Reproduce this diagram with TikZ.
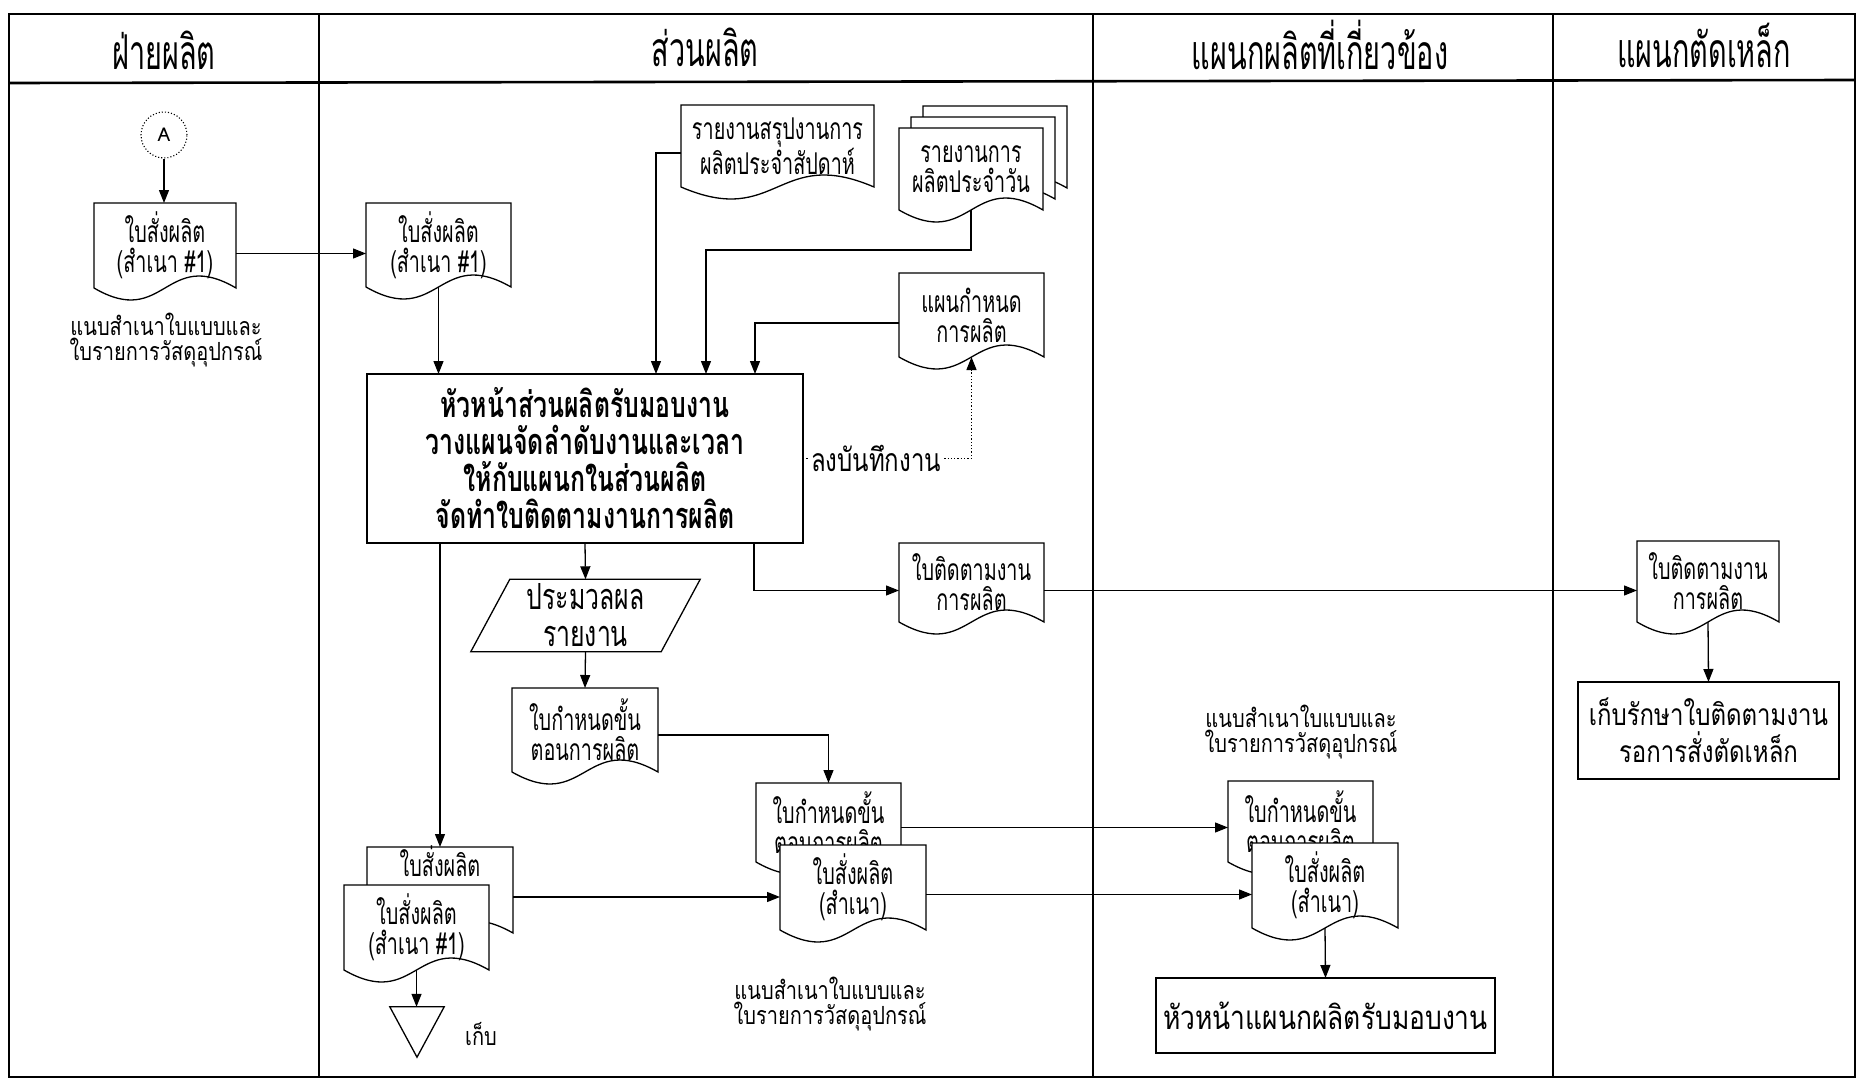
\documentclass[tikz,border=0pt]{standalone}
\usepackage{fontspec}
\newfontfamily\thaidoc[Script=Thai,FakeStretch=0.66]{Loma}
\newfontfamily\thainote[Script=Thai,FakeStretch=0.8]{Loma}
\newfontfamily\thailog[Script=Thai,FakeStretch=0.75]{Loma}
\newfontfamily\thaihdr[Script=Thai,FakeStretch=0.6]{Loma}
\newfontfamily\thaibox[Script=Thai,FakeStretch=0.8]{Loma}
\newfontfamily\thaitall[Script=Thai,FakeStretch=0.69]{Loma}
\newfontfamily\thaiplain[Script=Thai]{Loma}
\usetikzlibrary{arrows.meta,calc}

% Document symbol: rectangle with a wavy lower edge
\makeatletter
\newdimen\dpgL \newdimen\dpgR \newdimen\dpgT \newdimen\dpgB
\newdimen\dpgM \newdimen\dpgA \newdimen\dpgHi \newdimen\dpgLo
\pgfkeys{/pgf/doc wave/.initial=12pt}
\pgfdeclareshape{docpage}{%
  \inheritsavedanchors[from=rectangle]%
  \inheritanchorborder[from=rectangle]%
  \inheritanchor[from=rectangle]{center}%
  \inheritanchor[from=rectangle]{north}%
  \inheritanchor[from=rectangle]{south}%
  \inheritanchor[from=rectangle]{east}%
  \inheritanchor[from=rectangle]{west}%
  \inheritanchor[from=rectangle]{north east}%
  \inheritanchor[from=rectangle]{north west}%
  \inheritanchor[from=rectangle]{south east}%
  \inheritanchor[from=rectangle]{south west}%
  \inheritanchor[from=rectangle]{text}%
  \inheritanchor[from=rectangle]{mid}%
  \inheritanchor[from=rectangle]{base}%
  \backgroundpath{%
    \southwest \dpgL=\pgf@x \dpgB=\pgf@y
    \northeast \dpgR=\pgf@x \dpgT=\pgf@y
    \dpgM=.5\dpgL \advance\dpgM by .5\dpgR
    \pgfmathsetlength\dpgA{\pgfkeysvalueof{/pgf/doc wave}}%
    \dpgHi=\dpgB \advance\dpgHi by 3.46\dpgA
    \dpgLo=\dpgB \advance\dpgLo by -3.46\dpgA
    \pgfpathmoveto{\pgfqpoint{\dpgL}{\dpgB}}%
    \pgfpathlineto{\pgfqpoint{\dpgL}{\dpgT}}%
    \pgfpathlineto{\pgfqpoint{\dpgR}{\dpgT}}%
    \pgfpathlineto{\pgfqpoint{\dpgR}{\dpgB}}%
    \pgfpathcurveto{\pgfqpoint{\dpgM}{\dpgHi}}{\pgfqpoint{\dpgM}{\dpgLo}}{\pgfqpoint{\dpgL}{\dpgB}}%
    \pgfpathclose
  }%
}
\makeatother

\newcommand\docfont{\thaidoc\fontsize{30}{30}\selectfont}
\newcommand\notefont{\thainote\fontsize{25}{25}\selectfont}
\newcommand\logfont{\thailog\fontsize{32}{32}\selectfont}
\newcommand\hdrfont{\thaihdr\fontsize{48}{48}\selectfont}
\newcommand\boxfont{\thaibox\fontsize{30}{37}\selectfont}
\newcommand\widefont{\thaibox\fontsize{33}{37}\selectfont}
\newcommand\parafont{\thaitall\fontsize{36}{37}\selectfont}
\newcommand\bigboxfont{\thaitall\bfseries\fontsize{36}{37}\selectfont}

\tikzset{
  frame/.style={line width=2.6pt},
  lane/.style={line width=1.4pt},
  flow/.style={line width=1.3pt,-{Triangle[length=13pt,width=10pt]}},
  plainline/.style={line width=1.3pt},
  doc/.style={shape=docpage,draw,line width=1.3pt,fill=white,inner sep=0pt,
    outer sep=0pt,align=center,font=\docfont},
  proc/.style={draw,line width=1.3pt,fill=white,inner sep=0pt,outer sep=0pt,
    align=center,font=\boxfont},
  hdr/.style={font=\hdrfont,inner sep=0pt},
  note/.style={font=\notefont,align=center,inner sep=0pt},
}

% node given by its left, top, right and bottom edges
\newcommand\docnode[7][]{\node[doc,minimum width={(#5)-(#3)},minimum height={(#6)-(#4)},#1]
  (#2) at ({((#3)+(#5))/2},{((#4)+(#6))/2}) {#7};}
\newcommand\boxnode[7][]{\node[proc,minimum width={(#5)-(#3)},minimum height={(#6)-(#4)},#1]
  (#2) at ({((#3)+(#5))/2},{((#4)+(#6))/2}) {#7};}

\begin{document}
\begin{tikzpicture}[x=1pt,y=-1pt]
\useasboundingbox (0,0) rectangle (1860,1081);

% ---- swimlane frame ----
\draw[frame] (9,14) rectangle (1855,1077);
\draw[frame] (9,83) -- (1855,80);
\draw[lane] (319,14) -- (319,1077);
\draw[lane] (1093,14) -- (1093,1077);
\draw[lane] (1553,14) -- (1553,1077);

\node[hdr] (h1) at (164,50) {ฝ่ายผลิต};
\node[hdr] (h2) at (705,47) {ส่วนผลิต};
\node[hdr] (h3) at (1320,45) {แผนกผลิตที่เกี่ยวข้อง};
\node[hdr] (h4) at (1704,45) {แผนกตัดเหล็ก};

% ---- lane 1 ----
\node[draw,dotted,line width=1.1pt,circle,minimum size=46pt,inner sep=0pt,
  font=\thaiplain\fontsize{19}{19}\selectfont] (A) at (164,135) {A};
\docnode{doc1}{94}{203}{236}{288}{ใบสั่งผลิต\\(สำเนา \#1)}
\node[note] (note1) at (166,340) {แนบสำเนาใบแบบและ\\ใบรายการวัสดุอุปกรณ์};

% ---- lane 2 ----
\docnode{doc2}{366}{203}{511}{287}{ใบสั่งผลิต\\(สำเนา \#1)}
\docnode{weekly}{681}{105}{874}{187}{รายงานสรุปงานการ\\ผลิตประจำสัปดาห์}
\docnode{dailyC}{923}{106}{1067}{188}{}
\docnode{dailyB}{911}{117}{1055}{199}{}
\docnode{daily}{899}{128}{1043}{210}{รายงานการ\\ผลิตประจำวัน}
\docnode{plan}{899}{273}{1044}{357}{แผนกำหนด\\การผลิต}

\boxnode[font=\bigboxfont]{main}{367}{374}{803}{543}{หัวหน้าส่วนผลิตรับมอบงาน\\วางแผนจัดลำดับงานและเวลา\\ให้กับแผนกในส่วนผลิต\\จัดทำใบติดตามงานการผลิต}

\docnode{track}{899}{543}{1044}{622}{ใบติดตามงาน\\การผลิต}

\node[inner sep=0pt,minimum width=190pt,minimum height=72pt,align=center,font=\parafont]
  (report) at (585.5,615.5) {ประมวลผล\\รายงาน};
\draw[plainline] ([xshift=19.5pt]report.north west) -- ([xshift=19.5pt]report.north east)
  -- ([xshift=-19.5pt]report.south east) -- ([xshift=-19.5pt]report.south west) -- cycle;

\docnode{steps1}{512}{688}{658}{772}{ใบกำหนดขั้น\\ตอนการผลิต}
\docnode{steps2}{756}{783}{901}{862}{ใบกำหนดขั้น\\ตอนการผลิต}
\docnode{order2}{780}{845}{926}{930}{ใบสั่งผลิต\\(สำเนา)}

\docnode[text height=29pt,text depth=57pt]{orderB}{367}{847}{513}{933}{ใบสั่งผลิต}
\docnode{order1}{344}{885}{489}{970}{ใบสั่งผลิต\\(สำเนา \#1)}

\node[inner sep=0pt,minimum width=54pt,minimum height=50pt] (store) at (417,1032) {};
\draw[plainline] (store.north west) -- (store.north east) -- (store.south) -- cycle;
\node[note,font=\notefont] (storetxt) at (481,1034) {เก็บ};

\node[note] (note2) at (830,1004) {แนบสำเนาใบแบบและ\\ใบรายการวัสดุอุปกรณ์};

% ---- lane 3 ----
\node[note] (note3) at (1301,732) {แนบสำเนาใบแบบและ\\ใบรายการวัสดุอุปกรณ์};
\docnode{steps3}{1228}{781}{1373}{862}{ใบกำหนดขั้น\\ตอนการผลิต}
\docnode{order3}{1252}{843}{1398}{928}{ใบสั่งผลิต\\(สำเนา)}
\boxnode[font=\widefont]{head3}{1156}{978}{1495}{1053}{หัวหน้าแผนกผลิตรับมอบงาน}

% ---- lane 4 ----
\docnode{cut}{1637}{541}{1779}{622}{ใบติดตามงาน\\การผลิต}
\boxnode{keep}{1578}{682}{1839}{779}{เก็บรักษาใบติดตามงาน\\รอการสั่งตัดเหล็ก}

% ---- connectors ----
\draw[flow] (A.south) -- (A.south |- doc1.north);
\draw[flow] ([yshift=-8pt]doc1.east) -- ([yshift=-8pt]doc1.east -| doc2.west);
\draw[flow] (doc2.south) -- (doc2.south |- main.north);
\draw[flow] ([yshift=-7pt]weekly.west) -| ($(main.north west)+(289,0)$);
\draw[flow] (daily.south) -- ++(0,40) -| ($(main.north west)+(339,0)$);
\draw[flow] ([yshift=-8pt]plan.west) -| ($(main.north west)+(388,0)$);

\node[font=\logfont,inner sep=3pt] (logtxt) at (876,458.5) {ลงบันทึกงาน};
\draw[plainline,dotted] (main.east) -- (logtxt.west);
\draw[flow,dotted] (logtxt.east) -| (plan.south);

\draw[flow] (main.south) -- (report.north);
\draw[flow] (report.south) -- (steps1.north);
\draw[flow] (main.south -| orderB.north) -- (orderB.north);
\draw[flow] ($(main.south west)+(387,0)$) |- ([yshift=-8pt]track.west);
\draw[flow] ([yshift=-8pt]track.east) -- ([yshift=-8pt]track.east -| cut.west);
\draw[flow] ([yshift=-5pt]steps1.east) -| (steps2.north);
\draw[flow] ([yshift=-5pt]steps2.east) -- ([yshift=-5pt]steps2.east -| steps3.west);
\draw[flow] ([yshift=-7pt]orderB.east) -- ([yshift=-7pt]orderB.east -| order2.west);
\draw[flow] ([yshift=-7pt]order2.east) -- ([yshift=-7pt]order2.east -| order3.west);
\draw[flow] (order1.south) -- (order1.south |- store.north);
\draw[flow] (order3.south) -- (head3.north);
\draw[flow] (cut.south) -- (keep.north);
\end{tikzpicture}
\end{document}
